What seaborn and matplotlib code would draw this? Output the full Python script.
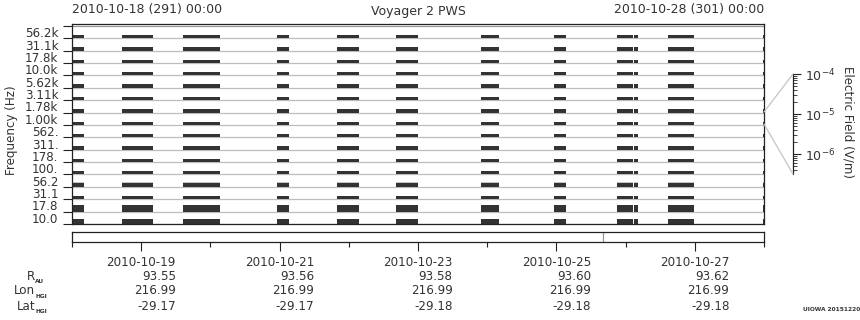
import numpy as np
import pandas as pd
import matplotlib
matplotlib.use("Agg")
import matplotlib.pyplot as plt
import seaborn as sns
from matplotlib.lines import Line2D
from matplotlib.ticker import NullFormatter, LogLocator
from matplotlib.transforms import blended_transform_factory

# ---------------- data ----------------
freq_labels = ['10.0', '17.8', '31.1', '56.2', '100.', '178.', '311.', '562.',
               '1.00k', '1.78k', '3.11k', '5.62k', '10.0k', '17.8k', '31.1k', '56.2k']
# relative bar heights per channel (bottom to top)
bar_heights = [0.40, 0.52, 0.28, 0.28, 0.28, 0.28, 0.28, 0.28,
               0.28, 0.28, 0.28, 0.28, 0.28, 0.28, 0.28, 0.28]
# data segments, days after 2010-10-18 00:00
seg_start = [0.000, 0.723, 1.604, 2.962, 3.829, 4.682, 5.910, 6.965, 7.876, 8.128, 8.613, 9.985]
seg_end   = [0.173, 1.171, 2.139, 3.136, 4.147, 5.000, 6.170, 7.139, 8.100, 8.179, 8.988, 10.000]
faint_channels = [3]

tick_days = [1, 3, 5, 7, 9]
tick_dates = ['2010-10-19', '2010-10-21', '2010-10-23', '2010-10-25', '2010-10-27']
r_au = ['93.55', '93.56', '93.58', '93.60', '93.62']
lon_hgi = ['216.99', '216.99', '216.99', '216.99', '216.99']
lat_hgi = ['-29.17', '-29.17', '-29.18', '-29.18', '-29.18']

segments = pd.DataFrame({'start': seg_start, 'end': seg_end})
segments['width'] = segments['end'] - segments['start']

# ---------------- style ----------------
sns.set_theme(style='white')
plt.rcParams['font.family'] = ['DejaVu Sans']
FS = 8.6
FS_T = 9.0
TXT = '#333333'
BAR = '#333333'
GRID = '#bdbdbd'
plt.rcParams['text.color'] = TXT
plt.rcParams['axes.labelcolor'] = TXT
plt.rcParams['xtick.color'] = TXT
plt.rcParams['ytick.color'] = TXT

W, H = 860, 320
fig = plt.figure(figsize=(W / 100, H / 100), dpi=100)
fig.patch.set_facecolor('white')


def fx(px):
    return px / W


def fy(py):
    return 1 - py / H


# ---------------- main panel ----------------
ax = fig.add_axes([fx(72), fy(224), fx(764) - fx(72), fy(24) - fy(224)])
ax.set_xlim(0, 10)
ax.set_ylim(0, 16.16)
ax.set_facecolor('white')

xr = list(zip(segments['start'], segments['width']))
for k in range(16):
    ax.axhline(k, color=GRID, lw=0.9, zorder=1)
    ax.broken_barh(xr, (k, bar_heights[k]), facecolors=BAR, edgecolors='none', zorder=2)
    if k in faint_channels:
        ax.broken_barh(xr, (k + bar_heights[k], 0.11), facecolors='#c4c4c4',
                       edgecolors='none', zorder=2)
ax.axhline(16, color='#9a9a9a', lw=0.9, zorder=1)

for s in ax.spines.values():
    s.set_visible(True)
    s.set_color('#222222')
    s.set_linewidth(0.9)

ax.set_xticks([])
ax.set_yticks(range(17))
ax.set_yticklabels([])
ax.set_yticks(np.arange(16) + 0.5, minor=True)
ax.set_yticklabels(freq_labels, minor=True)
ax.tick_params(axis='y', which='major', left=True, length=6.5, width=0.8,
               direction='out', color='#222222')
ax.tick_params(axis='y', which='minor', left=True, length=0, pad=9.9,
               labelsize=FS, labelcolor=TXT)

fig.text(fx(12), fy(130), 'Frequency (Hz)', rotation=90, ha='center', va='center',
         fontsize=FS)

# titles
fig.text(fx(72), fy(10), '2010-10-18 (291) 00:00', ha='left', va='center', fontsize=FS_T)
fig.text(fx(418), fy(11), 'Voyager 2 PWS', ha='center', va='center', fontsize=FS_T)
fig.text(fx(764), fy(10), '2010-10-28 (301) 00:00', ha='right', va='center', fontsize=FS_T)

# ---------------- bottom strip ----------------
axb = fig.add_axes([fx(72), fy(242.3), fx(764) - fx(72), (242.3 - 231.7) / H])
axb.set_xlim(0, 10)
axb.set_ylim(0, 1)
axb.set_yticks([])
axb.set_facecolor('white')
for s in axb.spines.values():
    s.set_visible(True)
    s.set_color('#222222')
    s.set_linewidth(0.9)
axb.axvline(7.68, color='#999999', lw=0.9)
axb.set_xticks(tick_days)
axb.set_xticks([0, 2, 4, 6, 8, 10], minor=True)
axb.tick_params(axis='x', which='major', bottom=True, length=6.8, width=0.8,
                direction='out', labelbottom=False, color='#222222')
axb.tick_params(axis='x', which='minor', bottom=True, length=3.6, width=0.8,
                direction='out', labelbottom=False, color='#222222')

tr = blended_transform_factory(axb.transData, fig.transFigure)
for i, d in enumerate(tick_days):
    axb.text(d + 0.5, fy(262), tick_dates[i], ha='right', va='center', transform=tr, fontsize=FS)
    axb.text(d + 0.5, fy(276), r_au[i], ha='right', va='center', transform=tr, fontsize=FS)
    axb.text(d + 0.5, fy(291), lon_hgi[i], ha='right', va='center', transform=tr, fontsize=FS)
    axb.text(d + 0.5, fy(306), lat_hgi[i], ha='right', va='center', transform=tr, fontsize=FS)

row_labels = [('R', 'AU', 276), ('Lon', 'HGI', 291), ('Lat', 'HGI', 306)]
for main, sub, y in row_labels:
    fig.text(fx(35), fy(y), main, ha='right', va='center', fontsize=FS)
    fig.text(fx(35.3), fy(y + 5.5), sub, ha='left', va='center', fontsize=4.2,
             weight='bold')

fig.text(fx(860), fy(309.5), 'UIOWA 20151220', ha='right', va='center', fontsize=4.2,
         weight='bold')

# ---------------- colour-scale axis ----------------
axc = fig.add_axes([fx(793), fy(174), 0.0004, (174 - 74) / H])
axc.set_yscale('log')
axc.set_ylim(10 ** -6.5, 1e-4)
axc.set_xticks([])
axc.patch.set_visible(False)
for name, s in axc.spines.items():
    s.set_visible(name == 'right')
    s.set_color('#222222')
    s.set_linewidth(0.9)
axc.yaxis.tick_right()
axc.yaxis.set_major_locator(LogLocator(base=10, numticks=10))
axc.yaxis.set_minor_locator(LogLocator(base=10, subs=np.arange(2, 10), numticks=20))
axc.yaxis.set_minor_formatter(NullFormatter())
axc.tick_params(axis='y', which='major', right=True, left=False, length=5.5, width=0.8,
                direction='out', labelright=True, labelleft=False, pad=3,
                labelsize=FS_T, color='#222222')
axc.tick_params(axis='y', which='minor', right=True, left=False, length=3.0, width=0.6,
                direction='out', color='#222222')

fig.text(fx(848), fy(122), 'Electric Field (V/m)', rotation=270, ha='center', va='center',
         fontsize=FS)

fig.add_artist(Line2D([fx(764), fx(793)], [fy(112), fy(74)], transform=fig.transFigure,
                      color='#c4c4c4', lw=0.9))
fig.add_artist(Line2D([fx(764), fx(793)], [fy(124), fy(174)], transform=fig.transFigure,
                      color='#c4c4c4', lw=0.9))

fig.savefig('out.png', dpi=100, facecolor='white')
